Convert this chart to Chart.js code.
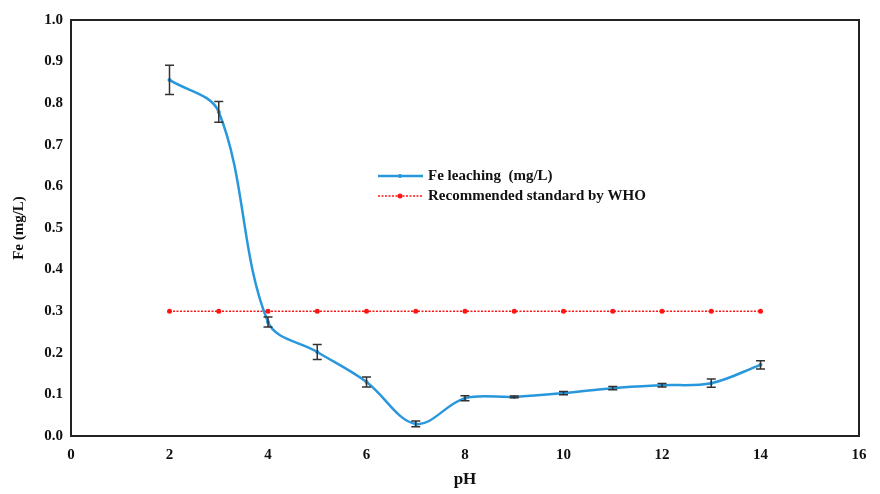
<!DOCTYPE html>
<html lang="en">
<head>
<meta charset="UTF-8">
<title>Fe leaching vs pH</title>
<script src="https://cdn.jsdelivr.net/npm/chart.js"></script>
<style>
  html, body { margin: 0; padding: 0; background: #fff; }
  #wrap { width: 880px; height: 494px; }
</style>
</head>
<body>
<div id="wrap"><canvas id="feChart" width="880" height="494"></canvas></div>
<script>
// values
const phValues = [2, 3, 4, 5, 6, 7, 8, 9, 10, 11, 12, 13, 14];
const feLeaching = [0.856, 0.779, 0.274, 0.202, 0.130, 0.029, 0.091, 0.094, 0.103, 0.115, 0.122, 0.127, 0.171];
const feError = [0.035, 0.025, 0.012, 0.018, 0.012, 0.007, 0.006, 0.002, 0.004, 0.004, 0.004, 0.010, 0.010];
const whoStandard = [0.3, 0.3, 0.3, 0.3, 0.3, 0.3, 0.3, 0.3, 0.3, 0.3, 0.3, 0.3, 0.3];
const xTicks = [0, 2, 4, 6, 8, 10, 12, 14, 16];
const yTicks = [0.0, 0.1, 0.2, 0.3, 0.4, 0.5, 0.6, 0.7, 0.8, 0.9, 1.0];

const blue = 'rgb(41, 151, 220)';
const red = 'rgb(255, 20, 20)';
const serif = "'Liberation Serif', 'Times New Roman', serif";

// error bars drawn from the y scale
const errorBars = {
    id: 'errorBars',
    afterDatasetsDraw(chart) {
        const ctx = chart.ctx;
        const xs = chart.scales.x, ys = chart.scales.y;
        ctx.save();
        ctx.strokeStyle = '#333';
        ctx.lineWidth = 1.5;
        phValues.forEach((ph, i) => {
            const px = xs.getPixelForValue(ph);
            const top = ys.getPixelForValue(feLeaching[i] + feError[i]);
            const bot = ys.getPixelForValue(feLeaching[i] - feError[i]);
            ctx.beginPath();
            ctx.moveTo(px, top); ctx.lineTo(px, bot);
            ctx.moveTo(px - 4.5, top); ctx.lineTo(px + 4.5, top);
            ctx.moveTo(px - 4.5, bot); ctx.lineTo(px + 4.5, bot);
            ctx.stroke();
        });
        ctx.restore();
    }
};

// box around plot area + legend inside it
const frameAndLegend = {
    id: 'frameAndLegend',
    afterDraw(chart) {
        const ctx = chart.ctx;
        const a = chart.chartArea;
        ctx.save();
        ctx.strokeStyle = '#222';
        ctx.lineWidth = 2;
        ctx.strokeRect(a.left, a.top, a.right - a.left, a.bottom - a.top);

        const lx = 378, ly = 176;
        ctx.font = "bold 15px " + serif;
        ctx.textBaseline = 'middle';
        ctx.fillStyle = '#111';
        // Fe leaching entry
        ctx.strokeStyle = blue; ctx.lineWidth = 2.5; ctx.setLineDash([]);
        ctx.beginPath(); ctx.moveTo(lx, ly); ctx.lineTo(lx + 45, ly); ctx.stroke();
        ctx.fillStyle = blue;
        ctx.beginPath(); ctx.arc(lx + 22, ly, 2, 0, Math.PI * 2); ctx.fill();
        ctx.fillStyle = '#111';
        ctx.fillText(chart.data.datasets[0].label, lx + 50, ly);
        // WHO entry
        const ly2 = ly + 20;
        ctx.strokeStyle = red; ctx.lineWidth = 1.5; ctx.setLineDash([2, 1.5]);
        ctx.beginPath(); ctx.moveTo(lx, ly2); ctx.lineTo(lx + 45, ly2); ctx.stroke();
        ctx.setLineDash([]);
        ctx.fillStyle = red;
        ctx.beginPath(); ctx.arc(lx + 22, ly2, 2.5, 0, Math.PI * 2); ctx.fill();
        ctx.fillStyle = '#111';
        ctx.fillText(chart.data.datasets[1].label, lx + 50, ly2);
        ctx.restore();
    }
};

const ctx = document.getElementById('feChart').getContext('2d');
new Chart(ctx, {
    type: 'line',
    data: {
        datasets: [{
            label: 'Fe leaching  (mg/L)',
            data: phValues.map((ph, i) => ({ x: ph, y: feLeaching[i] })),
            borderColor: blue,
            backgroundColor: blue,
            borderWidth: 2.5,
            pointRadius: 2,
            pointBorderWidth: 0,
            tension: 0.35,
            fill: false
        }, {
            label: 'Recommended standard by WHO',
            data: phValues.map((ph, i) => ({ x: ph, y: whoStandard[i] })),
            borderColor: red,
            backgroundColor: red,
            borderWidth: 1.5,
            borderDash: [2, 1.5],
            pointRadius: 2.5,
            pointBorderWidth: 0,
            tension: 0,
            fill: false
        }]
    },
    options: {
        responsive: false,
        animation: false,
        layout: { padding: { top: 20, right: 21, left: 6, bottom: 0 } },
        plugins: {
            legend: { display: false },
            tooltip: { enabled: false }
        },
        scales: {
            x: {
                type: 'linear',
                min: 0, max: 16,
                afterBuildTicks: (s) => { s.ticks = xTicks.map(v => ({ value: v })); },
                afterFit: (s) => { s.height = 58; },
                grid: { display: false, drawTicks: false },
                border: { display: false },
                ticks: {
                    color: '#111',
                    padding: 10,
                    font: { family: serif, size: 15, weight: 'bold' }
                },
                title: {
                    display: true,
                    text: 'pH',
                    color: '#111',
                    padding: { top: 13 },
                    font: { family: serif, size: 17, weight: 'bold' }
                }
            },
            y: {
                min: 0, max: 1,
                afterBuildTicks: (s) => { s.ticks = yTicks.map(v => ({ value: v })); },
                afterFit: (s) => { s.width = 65; },
                grid: { display: false, drawTicks: false },
                border: { display: false },
                ticks: {
                    color: '#111',
                    padding: 8,
                    callback: (v) => Number(v).toFixed(1),
                    font: { family: serif, size: 15, weight: 'bold' }
                },
                title: {
                    display: true,
                    text: 'Fe (mg/L)',
                    color: '#111',
                    padding: { bottom: 4 },
                    font: { family: serif, size: 15, weight: 'bold' }
                }
            }
        }
    },
    plugins: [errorBars, frameAndLegend]
});
</script>
</body>
</html>
